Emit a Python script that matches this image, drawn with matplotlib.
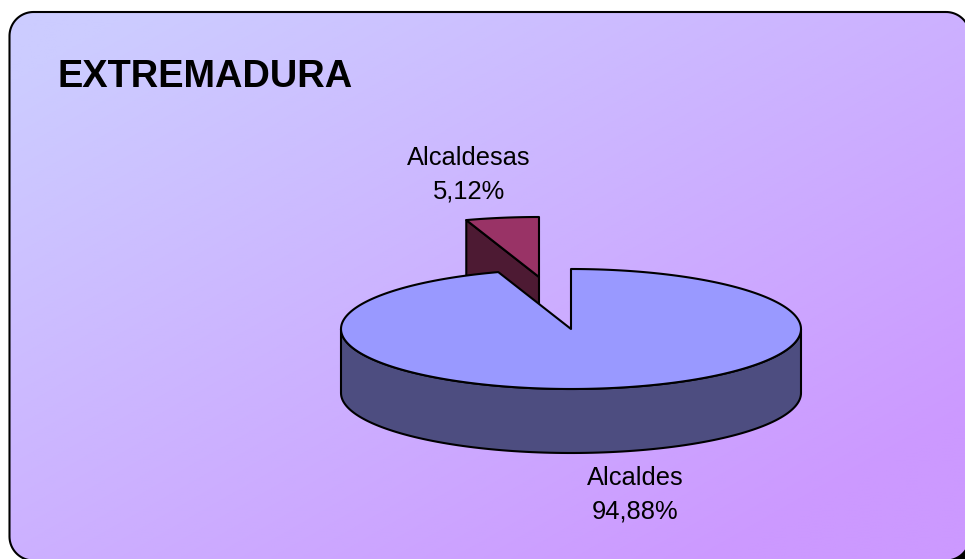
import numpy as np
import matplotlib
matplotlib.use("Agg")
import matplotlib.pyplot as plt
from matplotlib.patches import Polygon, Rectangle

plt.rcParams['font.family'] = ['Liberation Sans', 'DejaVu Sans']

title = "EXTREMADURA"
categories = ["Alcaldes", "Alcaldesas"]
values = [94.88, 5.12]
value_labels = ["94,88%", "5,12%"]

top_colors = ["#9999FF", "#993366"]
side_colors = ["#4D4D80", "#4D1A33"]
edge = "black"
lw = 1.5

W, H = 965, 559
fig = plt.figure(figsize=(W / 100, H / 100), dpi=100, facecolor="white")
ax = fig.add_axes([0, 0, 1, 1])


def rounded_rect(left, top, right, bottom, r, n=24):
    pts = []
    for cx, cy, a0 in [(right - r, top + r, -90), (right - r, bottom - r, 0),
                       (left + r, bottom - r, 90), (left + r, top + r, 180)]:
        a = np.radians(np.linspace(a0, a0 + 90, n))
        pts.append(np.column_stack([cx + r * np.cos(a), cy + r * np.sin(a)]))
    return np.vstack(pts)


# Rounded panel with diagonal gradient
L, T, R, B = 9.5, 12, 970, 560.5
panel = rounded_rect(L, T, R, B, 24)
ax.add_patch(Rectangle((930, 530), 40, 40, fc="black", ec="none", zorder=0))
clip = Polygon(panel, closed=True, fc="white", ec="none", zorder=0.5)
ax.add_patch(clip)
yy, xx = np.mgrid[0:1:200j, 0:1:300j]
t = np.clip((xx * 0.62 + yy * 0.62 - 0.08) / 1.0, 0, 1)[..., None]
c0 = np.array([0xCC, 0xCC, 0xFF]) / 255
c1 = np.array([0xCC, 0x99, 0xFF]) / 255
im = ax.imshow(c0 + (c1 - c0) * t, extent=(L, R, B, T), aspect="auto",
               zorder=1, interpolation="bilinear")
im.set_clip_path(clip)
ax.add_patch(Polygon(panel, closed=True, fc="none", ec=edge, lw=lw, zorder=2))
ax.set_xlim(0, W)
ax.set_ylim(H, 0)
ax.axis("off")

# Oblique pie geometry
rx, ry, depth = 230, 60, 64
main_center = np.array([571, 329])
small_center = np.array([539, 277])


def arc(center, a0, a1, n=120):
    a = np.radians(np.linspace(a0, a1, n))
    return np.column_stack([center[0] + rx * np.cos(a), center[1] - ry * np.sin(a)])


sweeps = np.array(values) / sum(values) * 360
main_end = 90 - sweeps[0]          # clockwise from 12 o'clock
small_start, small_end = main_end, main_end - sweeps[1]

# Exploded small slice (drawn first, behind the main slice)
s_arc = arc(small_center, small_start, small_end, 40)
p_end = s_arc[0]
face = np.array([small_center, p_end, p_end + [0, depth], small_center + [0, depth]])
ax.add_patch(Polygon(face, closed=True, fc=side_colors[1], ec=edge, lw=lw, zorder=3,
                     joinstyle="round"))
ax.add_patch(Polygon(np.vstack([small_center, s_arc]), closed=True, fc=top_colors[1],
                     ec=edge, lw=lw, zorder=4, joinstyle="round"))

# Main slice: wall then top
lower = arc(main_center, 180, 360)
wall = np.vstack([lower, (lower + [0, depth])[::-1]])
ax.add_patch(Polygon(wall, closed=True, fc=side_colors[0], ec=edge, lw=lw, zorder=5,
                     joinstyle="round"))
top = np.vstack([main_center, arc(main_center, 90, main_end, 300)])
ax.add_patch(Polygon(top, closed=True, fc=top_colors[0], ec=edge, lw=lw, zorder=6,
                     joinstyle="round"))

# Text
ax.text(58, 87, title, fontsize=27.4, fontweight="bold", color="black",
        ha="left", va="baseline", zorder=7)
ax.text(469, 165, categories[1], fontsize=18.4, color="black",
        ha="center", va="baseline", zorder=7)
ax.text(469, 198, value_labels[1], fontsize=18.4, color="black",
        ha="center", va="baseline", zorder=7)
ax.text(635, 485, categories[0], fontsize=18.4, color="black",
        ha="center", va="baseline", zorder=7)
ax.text(635, 518, value_labels[0], fontsize=18.4, color="black",
        ha="center", va="baseline", zorder=7)

fig.savefig("out.png", dpi=100)
